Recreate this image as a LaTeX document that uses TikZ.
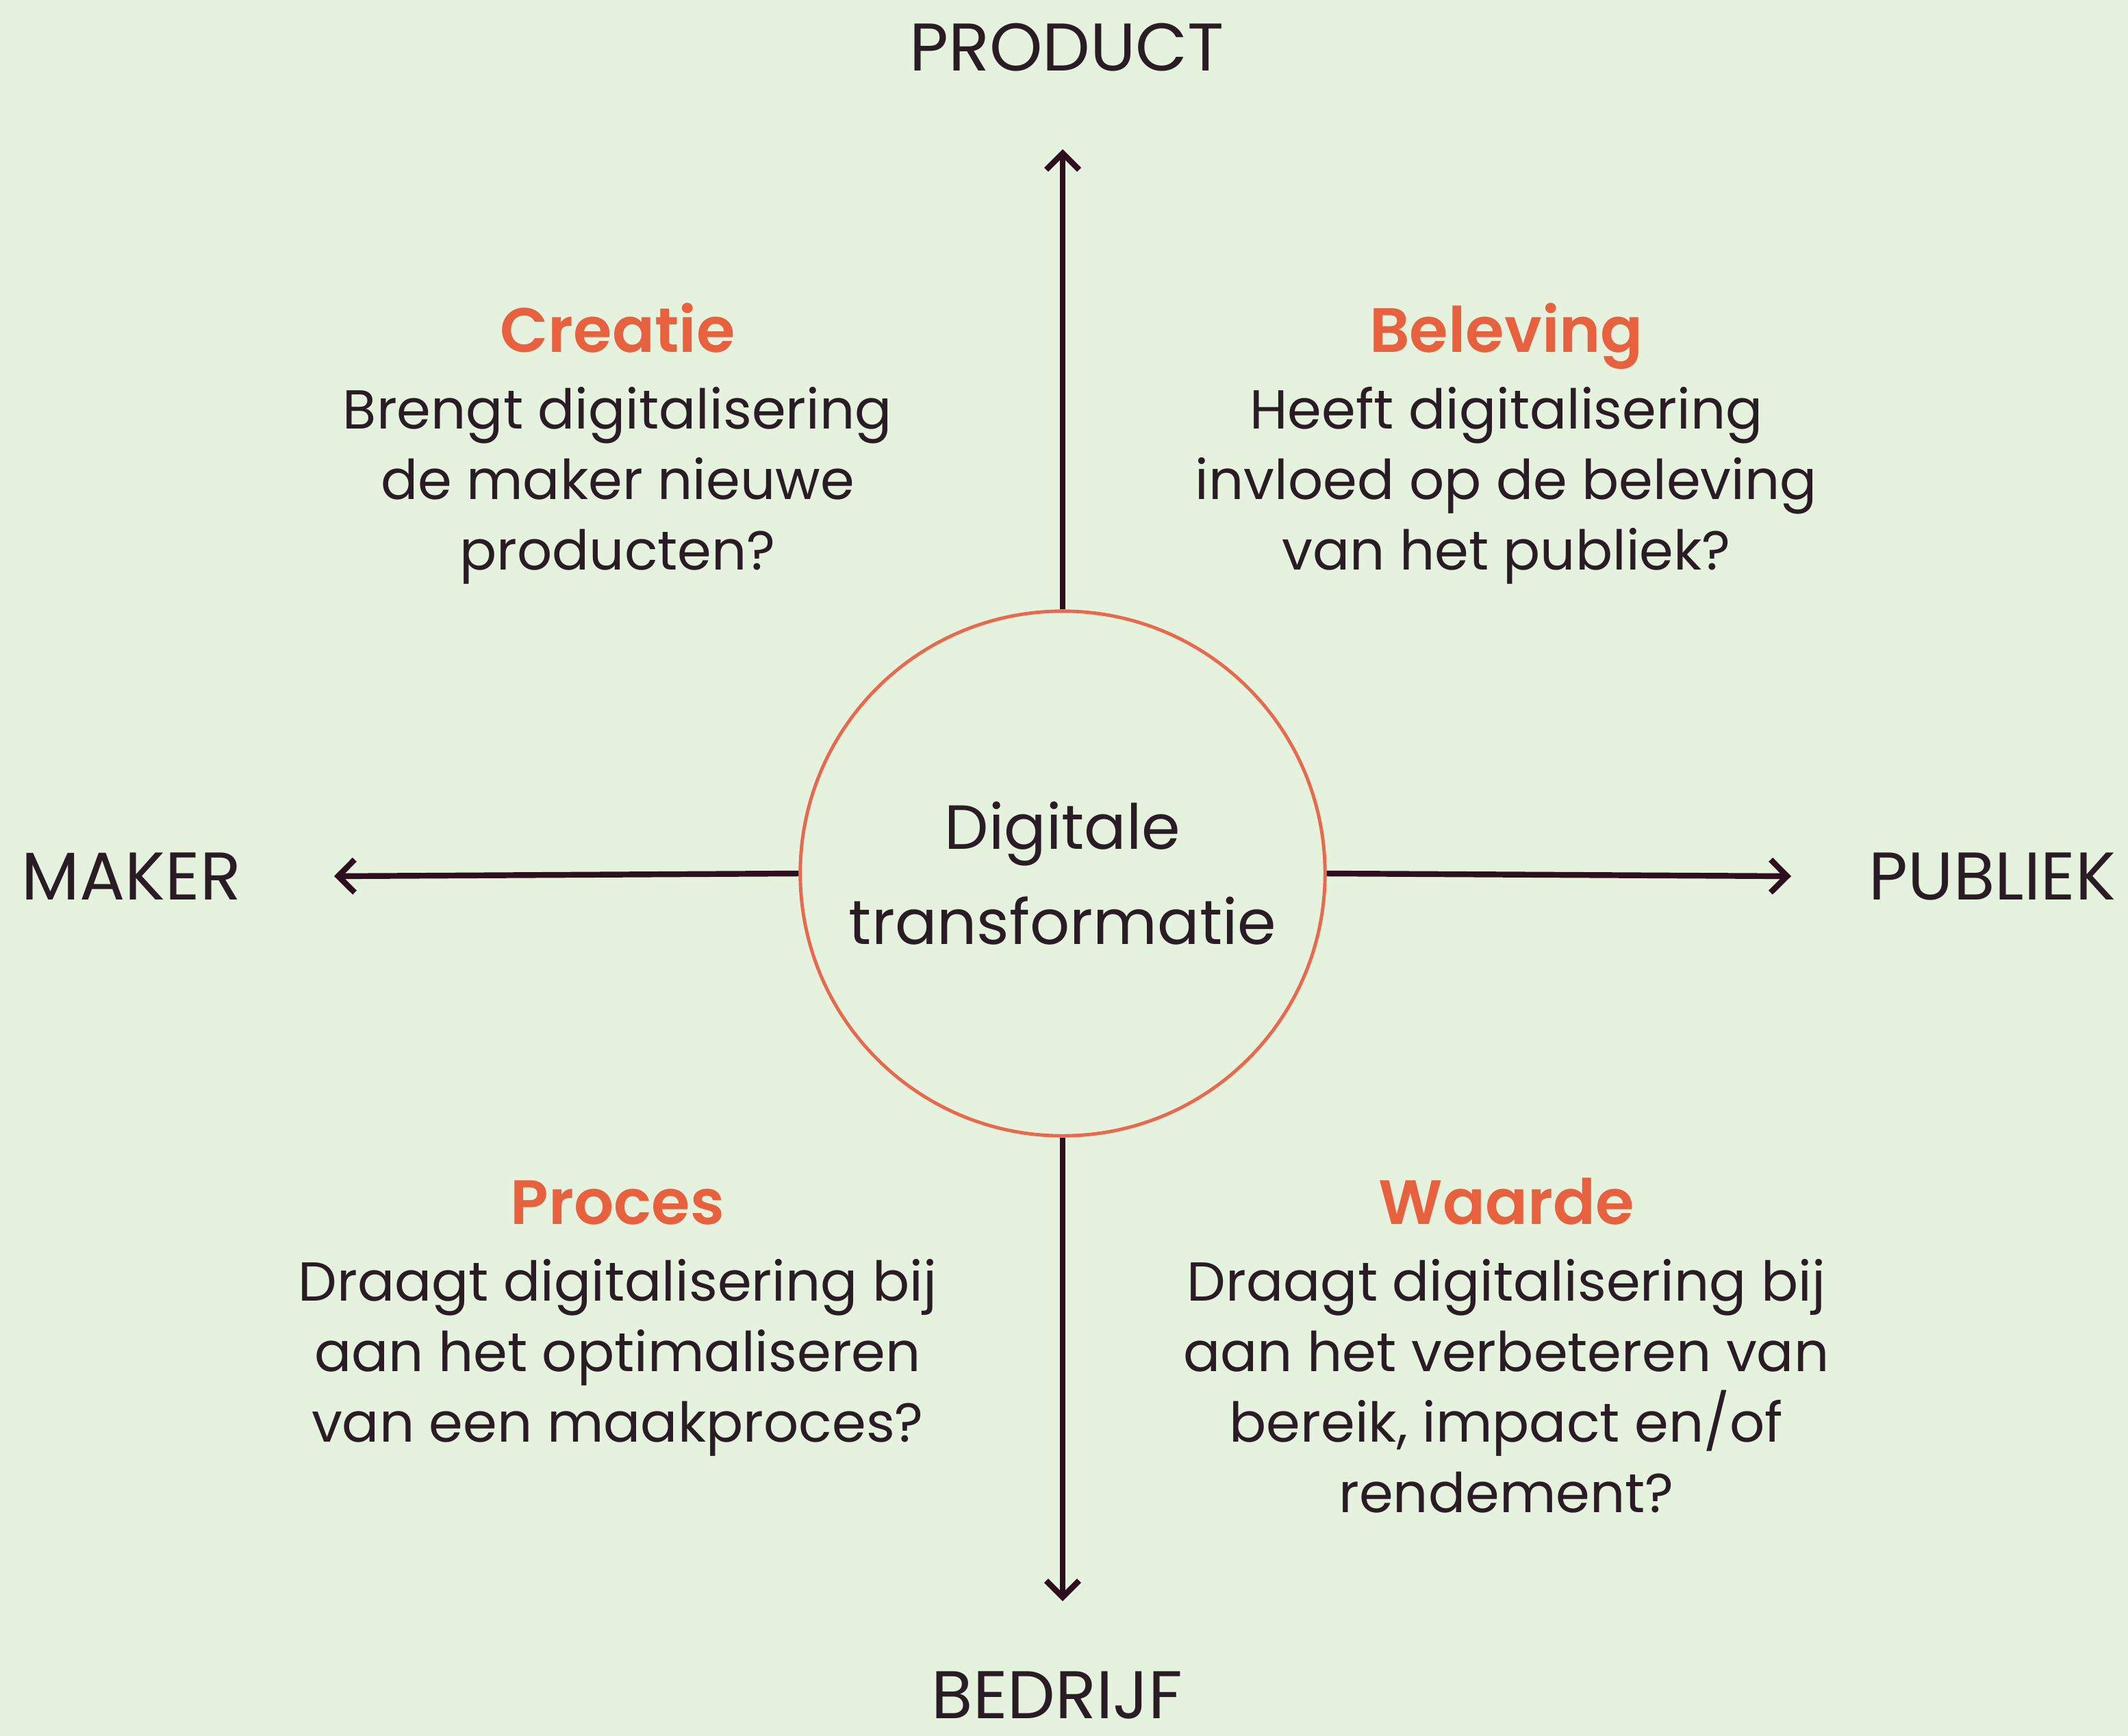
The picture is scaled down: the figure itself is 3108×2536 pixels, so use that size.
\documentclass[tikz,border=0pt]{standalone}
\usepackage{fontspec}
\setmainfont{Poppins}[BoldFont={Poppins SemiBold}]
\usetikzlibrary{arrows.meta, positioning}
\definecolor{bggreen}{HTML}{E4F2DE}
\definecolor{plum}{HTML}{2D0F1E}
\definecolor{coral}{HTML}{E8694D}
\definecolor{titlered}{HTML}{E8613F}
\definecolor{ink}{HTML}{2A1C24}
\tikzset{
    axis/.style={draw=plum, line width=2.4pt, -{Straight Barb[length=2.4mm,width=4.8mm]}},
    axislabel/.style={text=ink, inner sep=0pt, font=\fontsize{28}{34}\selectfont},
    quadtitle/.style={text=titlered, inner sep=0pt, text height=0.75em, text depth=0.25em,
        font=\fontsize{26}{30}\selectfont\bfseries},
    quadtext/.style={text=ink, inner sep=0pt, align=center,
        font=\fontsize{22.8}{29.3}\selectfont},
    node distance=0.40cm
}

\begin{document}
\begin{tikzpicture}[x=0.01cm, y=-0.01cm]
    \path[use as bounding box, fill=bggreen] (0,0) rectangle (3108,2536);
    % centre
    \node[circle, draw=coral, line width=1.4pt, minimum size=7.66cm, inner sep=0pt,
        text=ink, align=center, font=\fontsize{25.9}{39.5}\selectfont]
        (dt) at (1552,1276) {Digitale\\transformatie};
    % axes
    \coordinate (top) at (1552,218);
    \coordinate (bottom) at (1552,2339);
    \coordinate (left) at (488,1280);
    \coordinate (right) at (2616,1280);
    \draw[axis] (dt.north) -- (top);
    \draw[axis] (dt.south) -- (bottom);
    \draw[axis] (dt.west) -- (left);
    \draw[axis] (dt.east) -- (right);
    \node[axislabel] (product) at (1558,69) {PRODUCT};
    \node[axislabel] (bedrijf) at (1544,2476) {BEDRIJF};
    \node[axislabel] (maker) at (192,1280) {MAKER};
    \node[axislabel] (publiek) at (2910,1280) {PUBLIEK};
    % quadrants
    \node[quadtitle] (creatie) at (902,506) {Creatie};
    \node[quadtext, below=of creatie] (creatietxt)
        {Brengt digitalisering\\de maker nieuwe\\producten?};
    \node[quadtitle] (beleving) at (2200,506) {Beleving};
    \node[quadtext, below=of beleving] (belevingtxt)
        {Heeft digitalisering\\invloed op de beleving\\van het publiek?};
    \node[quadtitle] (proces) at (902,1780) {Proces};
    \node[quadtext, below=of proces] (procestxt)
        {Draagt digitalisering bij\\aan het optimaliseren\\van een maakproces?};
    \node[quadtitle] (waarde) at (2200,1780) {Waarde};
    \node[quadtext, below=of waarde] (waardetxt)
        {Draagt digitalisering bij\\aan het verbeteren van\\bereik, impact en/of\\rendement?};
\end{tikzpicture}
\end{document}
